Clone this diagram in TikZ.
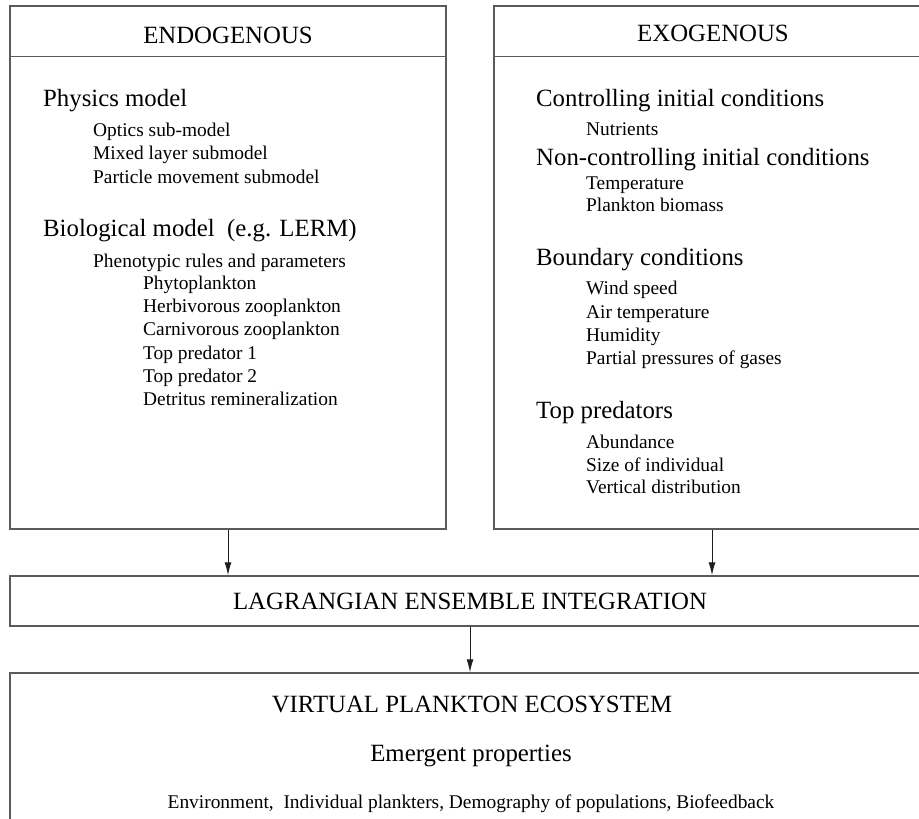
\documentclass[tikz,border=0pt]{standalone}
\usepackage{fontspec}
\setmainfont{Liberation Serif}
\usetikzlibrary{arrows.meta}
\definecolor{boxgray}{HTML}{5A5A5A}
\definecolor{arrowgray}{HTML}{1E1E1E}
\begin{document}
\begin{tikzpicture}[x=1pt,y=-1pt,
  frame/.style={draw=boxgray, line width=1.5pt, inner sep=0pt, fill=none},
  bigc/.style={font=\fontsize{24.8}{28}\selectfont, inner sep=0pt, anchor=base},
  bigl/.style={font=\fontsize{24.8}{28}\selectfont, inner sep=0pt, anchor=base west},
  small/.style={font=\fontsize{19.4}{22}\selectfont, inner sep=0pt, anchor=base west},
  smallc/.style={font=\fontsize{19.4}{22}\selectfont, inner sep=0pt, anchor=base},
  conn/.style={draw=arrowgray, line width=1pt, -{Latex[length=13pt,width=7pt]}}]
\useasboundingbox (0,0) rectangle (919,819);
\clip (0,0) rectangle (919,819);

% boxes
\node[frame, minimum width=436pt, minimum height=523pt] (endo) at (228,267.5) {};
\node[frame, minimum width=436pt, minimum height=523pt] (exo) at (712,267.5) {};
\node[frame, minimum width=920pt, minimum height=50pt] (lag) at (470,601) {};
\node[frame, minimum width=920pt, minimum height=170pt] (eco) at (470,758) {};

% header dividers
\draw[draw=boxgray, line width=1.5pt] ([yshift=-51pt]endo.north west) -- ([yshift=-51pt]endo.north east);
\draw[draw=boxgray, line width=1.5pt] ([yshift=-51pt]exo.north west) -- ([yshift=-51pt]exo.north east);

% headers
\node[bigc] (endoh) at (228,43) {ENDOGENOUS};
\node[bigc] (exoh) at (713,41) {EXOGENOUS};

% endogenous content
\node[bigl] (phys) at (43,106) {Physics model};
\node[small] (opt) at (93,136) {Optics sub-model};
\node[small] (mix) at (93,159.5) {Mixed layer submodel};
\node[small] (part) at (93,183.5) {Particle movement submodel};
\node[bigl] (bio) at (43,236) {Biological model\ \ (e.g. LERM)};
\node[small] (phen) at (93,267.5) {Phenotypic rules and parameters};
\node[small] (phyto) at (143,289.5) {Phytoplankton};
\node[small] (herb) at (143,312.5) {Herbivorous zooplankton};
\node[small] (carn) at (143,335.5) {Carnivorous zooplankton};
\node[small] (tp1) at (143,359.5) {Top predator 1};
\node[small] (tp2) at (143,382.5) {Top predator 2};
\node[small] (detr) at (143,405.5) {Detritus remineralization};

% exogenous content
\node[bigl] (ctrl) at (536,106) {Controlling initial conditions};
\node[small] (nutr) at (586,135.5) {Nutrients};
\node[bigl] (nctrl) at (536,165) {Non-controlling initial conditions};
\node[small] (temp) at (586,189.5) {Temperature};
\node[small] (pbio) at (586,211.5) {Plankton biomass};
\node[bigl] (bound) at (536,265) {Boundary conditions};
\node[small] (wind) at (586,294.5) {Wind speed};
\node[small] (air) at (586,318.5) {Air temperature};
\node[small] (hum) at (586,341.5) {Humidity};
\node[small] (pp) at (586,364.5) {Partial pressures of gases};
\node[bigl] (topp) at (536,418) {Top predators};
\node[small] (abund) at (586,448.5) {Abundance};
\node[small] (size) at (586,471.5) {Size of individual};
\node[small] (vert) at (586,493.5) {Vertical distribution};

% lagrangian
\node[bigc] (lagt) at (470,609) {LAGRANGIAN ENSEMBLE INTEGRATION};

% ecosystem
\node[bigc] (ecot) at (472,712) {VIRTUAL PLANKTON ECOSYSTEM};
\node[bigc] (emer) at (471,761) {Emergent properties};
\node[smallc] (envl) at (471,808) {Environment,\ \ Individual plankters, Demography of populations, Biofeedback};

% connectors
\draw[conn] (endo.south) -- (endo.south |- lag.north);
\draw[conn] (exo.south) -- (exo.south |- lag.north);
\draw[conn] (lag.south) -- (eco.north);
\end{tikzpicture}
\end{document}
